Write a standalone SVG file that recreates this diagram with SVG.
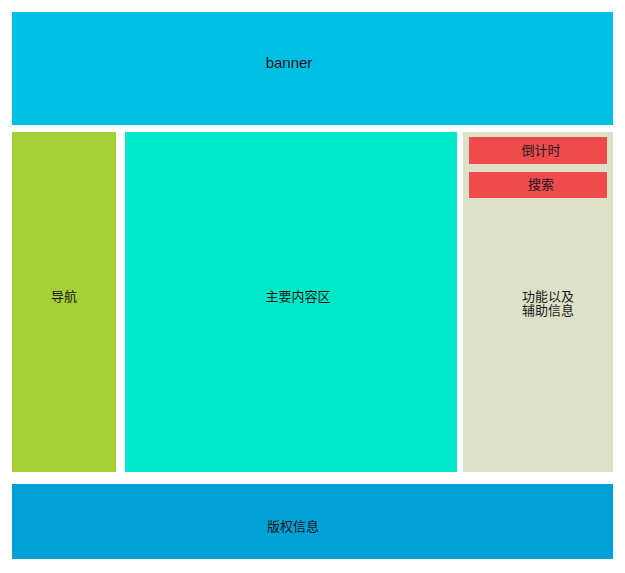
<svg xmlns="http://www.w3.org/2000/svg" width="625" height="573" viewBox="0 0 625 573">
<style>
text{font-family:"Noto Sans CJK SC","Liberation Sans",sans-serif;font-size:13px;fill:#1a1a1a;text-anchor:middle}
.en{font-family:"Liberation Sans",Arial,sans-serif;font-size:15px}
</style>
<rect width="625" height="573" fill="#ffffff"/>
<g id="banner"><rect x="12" y="12" width="601" height="113" fill="#00BFE7"/><text class="en" x="289" y="68">banner</text></g>
<g id="nav"><rect x="12" y="132" width="104" height="340" fill="#A6CF38"/><text x="64" y="301">导航</text></g>
<g id="main"><rect x="125" y="132" width="332" height="340" fill="#00E8C8"/><text x="298" y="301">主要内容区</text></g>
<g id="side"><rect x="463" y="132" width="150" height="340" fill="#DDE1C8"/><text x="548" y="301">功能以及</text><text x="548" y="315">辅助信息</text></g>
<g id="countdown"><rect x="469" y="137" width="138" height="27" fill="#EF4A4C"/><text x="541" y="155">倒计时</text></g>
<g id="search"><rect x="469" y="172" width="138" height="26" fill="#EF4A4C"/><text x="541" y="189">搜索</text></g>
<g id="footer"><rect x="12" y="484" width="601" height="75" fill="#00A0D6"/><text x="293" y="531">版权信息</text></g>
<g id="connectors"/>
</svg>
